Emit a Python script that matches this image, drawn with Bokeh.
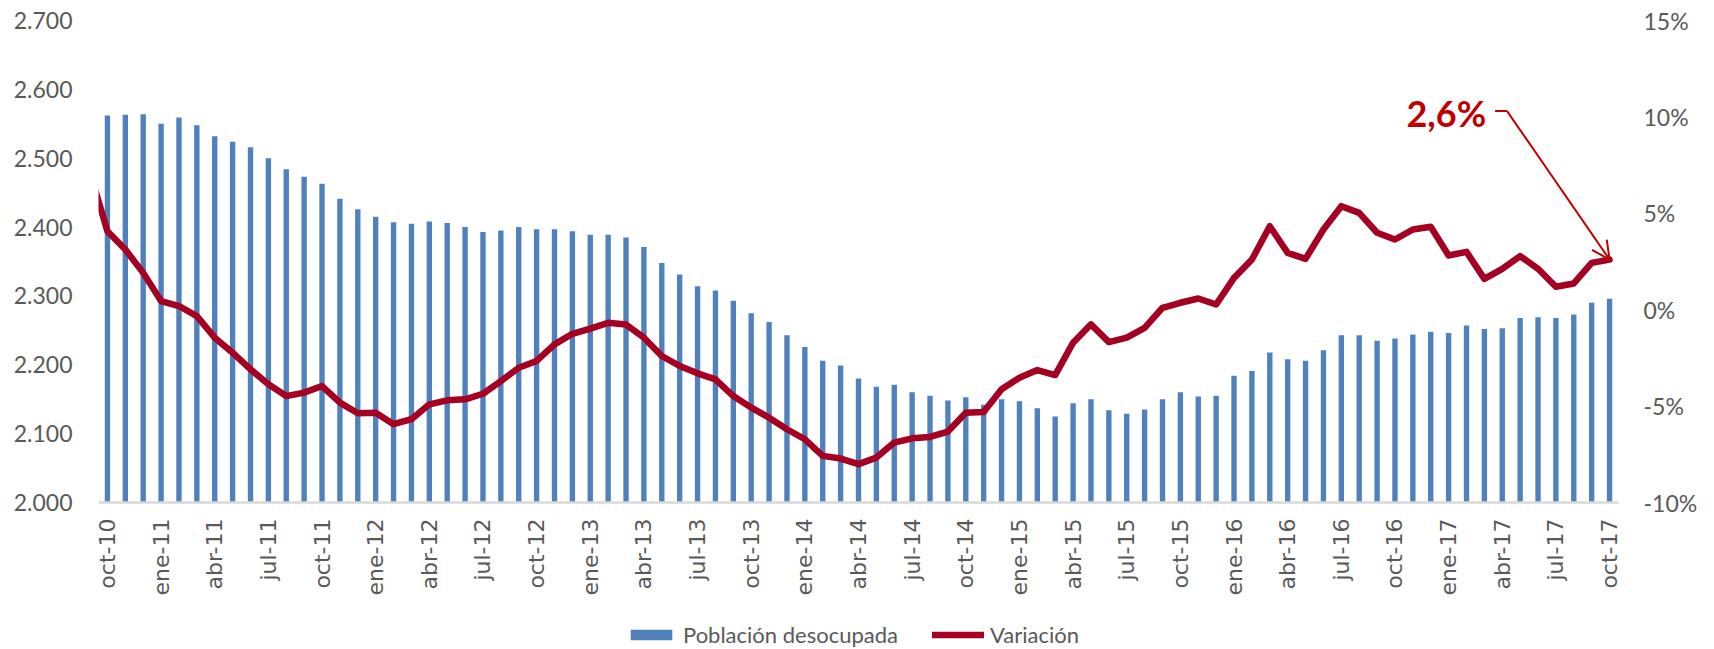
import math
from bokeh.plotting import figure
from bokeh.layouts import column
from bokeh.models import (Range1d, LinearAxis, FixedTicker, Legend, LegendItem,
                          Label, Arrow, OpenHead, ColumnDataSource)
from bokeh.embed import file_html
from bokeh.resources import INLINE

# ---------------- data ----------------
tick_labels = ["oct-10", "ene-11", "abr-11", "jul-11", "oct-11", "ene-12", "abr-12",
               "jul-12", "oct-12", "ene-13", "abr-13", "jul-13", "oct-13", "ene-14",
               "abr-14", "jul-14", "oct-14", "ene-15", "abr-15", "jul-15", "oct-15",
               "ene-16", "abr-16", "jul-16", "oct-16", "ene-17", "abr-17", "jul-17",
               "oct-17"]

# Población desocupada (miles), monthly oct-10 .. oct-17
poblacion = [2562, 2563, 2564, 2550, 2559, 2548, 2532, 2524, 2516, 2500, 2484, 2473,
             2463, 2441, 2426, 2415, 2407, 2405, 2408, 2406, 2400, 2393, 2395, 2400,
             2397, 2397, 2394, 2389, 2389, 2385, 2371, 2348, 2331, 2314, 2308, 2293,
             2275, 2262, 2243, 2226, 2206, 2199, 2180, 2168, 2171, 2160, 2155, 2148,
             2153, 2142, 2150, 2147, 2137, 2125, 2144, 2150, 2134, 2129, 2135, 2150,
             2160, 2154, 2155, 2184, 2191, 2218, 2208, 2206, 2221, 2243, 2243, 2235,
             2238, 2244, 2248, 2246, 2257, 2252, 2253, 2268, 2269, 2268, 2273, 2290,
             2296]

# Variación interanual (%), monthly sep-10 .. oct-17 (sep-10 lies left of the axis)
variacion = [7.2,
             4.07, 3.12, 1.91, 0.45, 0.19, -0.33, -1.45, -2.23, -3.09, -3.87, -4.48, -4.30,
             -3.96, -4.82, -5.37, -5.34, -5.94, -5.68, -4.91, -4.70, -4.65, -4.36, -3.70,
             -3.01, -2.66, -1.80, -1.25, -0.98, -0.68, -0.77, -1.45, -2.40, -2.92, -3.30,
             -3.61, -4.48, -5.08, -5.60, -6.20, -6.72, -7.58, -7.72, -8.01, -7.67, -6.89,
             -6.67, -6.60, -6.32, -5.34, -5.31, -4.13, -3.53, -3.13, -3.39, -1.71, -0.76,
             -1.68, -1.45, -0.94, 0.10, 0.36, 0.58, 0.27, 1.65, 2.60, 4.33, 2.95, 2.64,
             4.16, 5.37, 5.02, 3.99, 3.64, 4.16, 4.30, 2.81, 3.00, 1.60, 2.12, 2.78, 2.12,
             1.19, 1.36, 2.43, 2.60]

left_ticks = [2000, 2100, 2200, 2300, 2400, 2500, 2600, 2700]
right_ticks = [-10, -5, 0, 5, 10, 15]
annotation_text = "2,6%"
series_names = ["Población desocupada", "Variación"]

# ---------------- styling ----------------
BAR_COLOR = "#4F81BD"
LINE_COLOR = "#A50021"
ANNOT_COLOR = "#C00000"
TEXT_COLOR = "#595959"
W = 1714

n = len(poblacion)
x_bar = list(range(n))
x_var = list(range(-1, n))

p = figure(width=W, height=620, output_backend="svg", toolbar_location=None,
           x_range=Range1d(-0.5, n - 0.5), y_range=Range1d(2000, 2700),
           min_border_left=98, min_border_right=96, min_border_top=20,
           min_border_bottom=118)
p.outline_line_color = None
p.grid.visible = False
p.background_fill_color = "white"
p.border_fill_color = "white"
p.extra_y_ranges = {"pct": Range1d(-10, 15)}

bar_src = ColumnDataSource(dict(x=x_bar, top=poblacion))
line_src = ColumnDataSource(dict(x=x_var, y=variacion))

bar_style = dict(fill_color=BAR_COLOR, line_color=None)
line_style = dict(line_color=LINE_COLOR, line_width=6.5, line_join="round",
                  line_cap="round")

p.vbar(x="x", top="top", bottom=2000, width=0.3, source=bar_src, **bar_style)
p.line(x="x", y="y", source=line_src, y_range_name="pct", **line_style)

# x axis
xa = p.xaxis[0]
xa.ticker = FixedTicker(ticks=[3 * i for i in range(len(tick_labels))])
xa.major_label_overrides = {3 * i: lbl for i, lbl in enumerate(tick_labels)}
xa.major_label_orientation = math.pi / 2
xa.major_tick_line_color = None
xa.minor_tick_line_color = None
xa.major_tick_out = 0
xa.major_tick_in = 0
xa.minor_tick_out = 0
xa.axis_line_color = "#D9D9D9"
xa.axis_line_width = 2.5
xa.major_label_text_font = "DejaVu Sans"
xa.major_label_text_font_size = "22px"
xa.major_label_text_color = TEXT_COLOR
xa.major_label_standoff = 16

# left axis
ya = p.yaxis[0]
ya.ticker = FixedTicker(ticks=left_ticks)
ya.major_label_overrides = {v: f"{v // 1000}.{v % 1000:03d}" for v in left_ticks}
ya.axis_line_color = None
ya.major_tick_line_color = None
ya.minor_tick_line_color = None
ya.major_tick_out = 0
ya.major_tick_in = 0
ya.minor_tick_out = 0
ya.major_label_text_font = "Lato"
ya.major_label_text_font_size = "23px"
ya.major_label_text_color = TEXT_COLOR
ya.major_label_standoff = 26

# right axis
ra = LinearAxis(y_range_name="pct", ticker=FixedTicker(ticks=right_ticks))
ra.major_label_overrides = {v: f"{v}%" for v in right_ticks}
ra.axis_line_color = None
ra.major_tick_line_color = None
ra.minor_tick_line_color = None
ra.major_tick_out = 0
ra.major_tick_in = 0
ra.minor_tick_out = 0
ra.major_label_text_font = "Lato"
ra.major_label_text_font_size = "23px"
ra.major_label_text_color = TEXT_COLOR
ra.major_label_standoff = 25
p.add_layout(ra, "right")

# annotation
p.add_layout(Label(x=77.1, y=10.2, y_range_name="pct", text=annotation_text,
                   text_font="Lato", text_font_style="bold", text_font_size="36px",
                   text_color=ANNOT_COLOR, text_align="right", text_baseline="middle"))
p.add_layout(Arrow(x_start=77.6, y_start=10.3, x_end=78.27, y_end=10.3, end=None,
                   y_range_name="pct", line_color=ANNOT_COLOR, line_width=2))
p.add_layout(Arrow(x_start=78.27, y_start=10.3, x_end=n - 1, y_end=variacion[-1],
                   y_range_name="pct", line_color=ANNOT_COLOR, line_width=2,
                   end=OpenHead(size=18, line_color=ANNOT_COLOR, line_width=2)))

# legend strip (separate small figure below the chart); its renderers share the
# chart's data but the strip's y range keeps them out of view, so only the
# legend shows.
lg = figure(width=W, height=29, output_backend="svg", toolbar_location=None,
            x_range=Range1d(-0.5, n - 0.5), y_range=Range1d(10000, 10001),
            x_axis_type=None, y_axis_type=None,
            min_border_left=0, min_border_right=0, min_border_top=0,
            min_border_bottom=0)
lg.outline_line_color = None
lg.grid.visible = False
lg.border_fill_color = "white"
lg_bar = lg.vbar(x="x", top="top", bottom=2000, width=0.3, source=bar_src, **bar_style)
lg_line = lg.line(x="x", y="y", source=line_src, **line_style)
legend = Legend(items=[LegendItem(label=series_names[0], renderers=[lg_bar]),
                       LegendItem(label=series_names[1], renderers=[lg_line])],
                orientation="horizontal", location=(527, 1),
                glyph_width=52, glyph_height=13, label_standoff=6, spacing=34,
                padding=0, margin=0, border_line_color=None,
                background_fill_alpha=0,
                label_text_font="Lato", label_text_font_size="22px",
                label_text_color=TEXT_COLOR)
lg.add_layout(legend, "center")

layout = column(p, lg, spacing=0)
open("out.html", "w").write(file_html(layout, INLINE))
